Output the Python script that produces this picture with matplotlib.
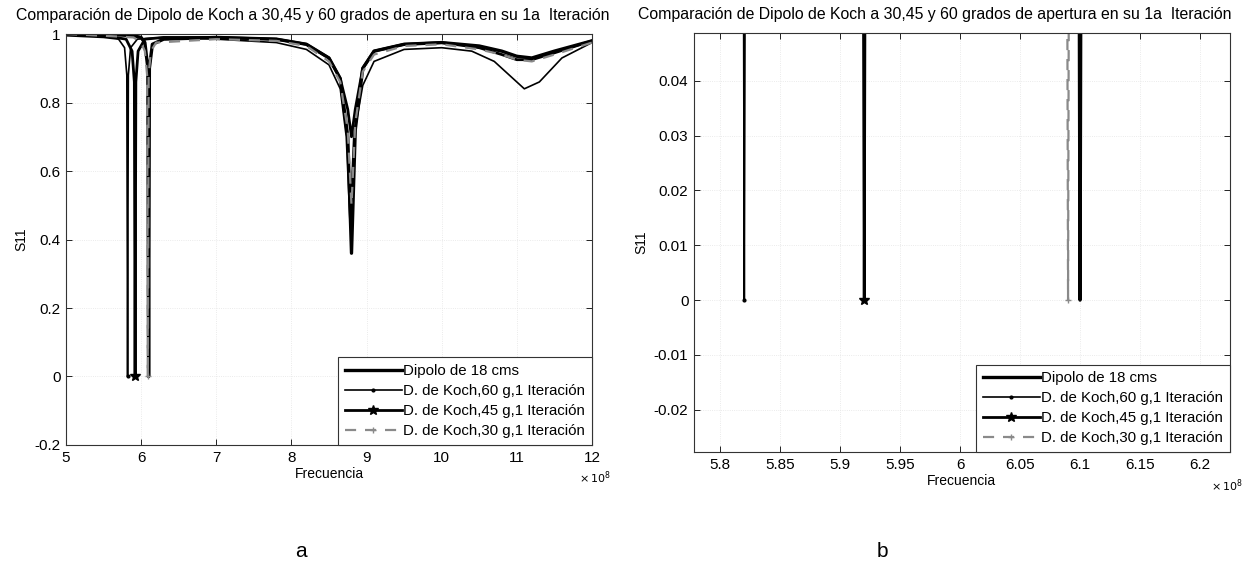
import matplotlib
matplotlib.use("Agg")
import matplotlib.pyplot as plt
from matplotlib.ticker import FuncFormatter

plt.rcParams["font.family"] = ["Liberation Sans", "DejaVu Sans"]

# frequency in units of 1e8 Hz, S11 magnitude
dip18_f = [5.0, 5.5, 5.9, 6.0, 6.05, 6.09, 6.1, 6.11, 6.15, 6.3, 7.0, 7.8, 8.2, 8.5,
           8.65, 8.75, 8.8, 8.85, 8.95, 9.1, 9.5, 10.0, 10.5, 10.8, 11.0, 11.2, 11.5, 12.0]
dip18_s = [1.0, 1.0, 0.995, 0.99, 0.975, 0.9, 0.0, 0.9, 0.97, 0.985, 0.99, 0.985, 0.97, 0.93,
           0.87, 0.7, 0.36, 0.72, 0.9, 0.95, 0.97, 0.975, 0.965, 0.95, 0.935, 0.93, 0.95, 0.98]

k60_f = [5.0, 5.5, 5.7, 5.78, 5.81, 5.82, 5.83, 5.86, 5.95, 6.3, 7.0, 7.8, 8.2, 8.5, 8.65,
         8.73, 8.78, 8.83, 8.95, 9.1, 9.5, 10.0, 10.4, 10.7, 10.9, 11.1, 11.3, 11.6, 12.0]
k60_s = [0.995, 0.99, 0.985, 0.96, 0.88, 0.0, 0.88, 0.96, 0.985, 0.99, 0.985, 0.975, 0.955, 0.91, 0.84,
         0.7, 0.45, 0.7, 0.85, 0.92, 0.955, 0.96, 0.95, 0.92, 0.88, 0.84, 0.86, 0.93, 0.975]

k45_f = [5.0, 5.5, 5.8, 5.88, 5.91, 5.92, 5.93, 5.96, 6.05, 6.3, 7.0, 7.8, 8.2, 8.5, 8.65,
         8.75, 8.8, 8.85, 8.95, 9.1, 9.5, 10.0, 10.5, 10.8, 11.0, 11.2, 11.5, 12.0]
k45_s = [1.0, 0.995, 0.985, 0.95, 0.86, 0.0, 0.86, 0.95, 0.985, 0.99, 0.99, 0.985, 0.97, 0.93, 0.87,
         0.78, 0.7, 0.78, 0.9, 0.95, 0.97, 0.975, 0.96, 0.94, 0.925, 0.925, 0.945, 0.98]

k30_f = [5.0, 5.5, 5.9, 6.0, 6.05, 6.08, 6.09, 6.1, 6.13, 6.2, 7.0, 7.8, 8.2, 8.5, 8.65,
         8.75, 8.8, 8.85, 8.95, 9.1, 9.5, 10.0, 10.5, 10.8, 11.0, 11.2, 11.5, 12.0]
k30_s = [1.0, 0.995, 0.99, 0.975, 0.95, 0.88, 0.0, 0.88, 0.95, 0.975, 0.985, 0.98, 0.965, 0.92, 0.86,
         0.72, 0.5, 0.74, 0.89, 0.94, 0.965, 0.97, 0.955, 0.94, 0.925, 0.92, 0.94, 0.975]

labels = ["Dipolo de 18 cms",
          "D. de Koch,60 g,1 Iteración",
          "D. de Koch,45 g,1 Iteración",
          "D. de Koch,30 g,1 Iteración"]
title = "Comparación de Dipolo de Koch a 30,45 y 60 grados de apertura en su 1a  Iteración"

left_xticks = [5, 6, 7, 8, 9, 10, 11, 12]
left_yticks = [-0.2, 0, 0.2, 0.4, 0.6, 0.8, 1]
right_xticks = [5.8, 5.85, 5.9, 5.95, 6.0, 6.05, 6.1, 6.15, 6.2]
right_yticks = [-0.02, -0.01, 0, 0.01, 0.02, 0.03, 0.04]

fig = plt.figure(figsize=(12.47, 5.65), dpi=100)
ax1 = fig.add_axes([0.0529, 0.2124, 0.4218, 0.7274])
ax2 = fig.add_axes([0.5565, 0.2000, 0.4298, 0.7416])


def draw(ax):
    ax.plot(dip18_f, dip18_s, color="black", lw=2.4, label=labels[0])
    ax.plot(k60_f, k60_s, color="black", lw=1.2, marker=".", ms=4,
            markevery=[k60_s.index(0.0)], label=labels[1])
    ax.plot(k45_f, k45_s, color="black", lw=2.0, marker="*", ms=7,
            markevery=[k45_s.index(0.0)], label=labels[2])
    ax.plot(k30_f, k30_s, color="#8a8a8a", lw=1.6, ls=(0, (5, 4)), marker="+", ms=5,
            markevery=[k30_s.index(0.0)], label=labels[3])
    ax.tick_params(direction="in", top=True, right=True, length=4, width=0.6,
                   labelsize=11, pad=4)
    for sp in ax.spines.values():
        sp.set_linewidth(0.8)
        sp.set_color("#333333")
    ax.grid(True, ls=":", color="#e4e4e4", lw=0.6)
    ax.xaxis.set_major_formatter(FuncFormatter(lambda v, p: "%g" % round(v, 4)))
    ax.yaxis.set_major_formatter(FuncFormatter(lambda v, p: "%g" % round(v, 4)))
    ax.set_xlabel("Frecuencia", fontsize=10, labelpad=2)
    ax.set_ylabel("S11", fontsize=10)
    leg = ax.legend(loc="lower right", borderaxespad=0, fancybox=False, fontsize=10.8,
                    edgecolor="#333333", framealpha=1, handlelength=3.8, handletextpad=0.1,
                    labelspacing=0.4, borderpad=0.45)
    leg.get_frame().set_linewidth(0.8)


draw(ax1)
ax1.set_xlim(5, 12)
ax1.set_ylim(-0.2, 1)
ax1.set_xticks(left_xticks)
ax1.set_yticks(left_yticks)
t1 = ax1.set_title(title, fontsize=11.4, pad=10)
t1.set_x(0.47)
ax1.text(0.975, -0.06, r"$\times\,10^{8}$", transform=ax1.transAxes,
         ha="left", va="top", fontsize=8)

draw(ax2)
ax2.set_xlim(5.778, 6.225)
ax2.set_ylim(-0.0277, 0.0487)
ax2.set_xticks(right_xticks)
ax2.set_yticks(right_yticks)
t2 = ax2.set_title(title, fontsize=11.4, pad=10, loc="left")
t2.set_x(-0.105)
ax2.text(1.024, -0.06, r"$\times\,10^{8}$", transform=ax2.transAxes,
         ha="right", va="top", fontsize=8)

fig.text(0.241, 0.015, "a", fontsize=15, ha="center")
fig.text(0.708, 0.015, "b", fontsize=15, ha="center")

fig.savefig("out.png", dpi=100)
